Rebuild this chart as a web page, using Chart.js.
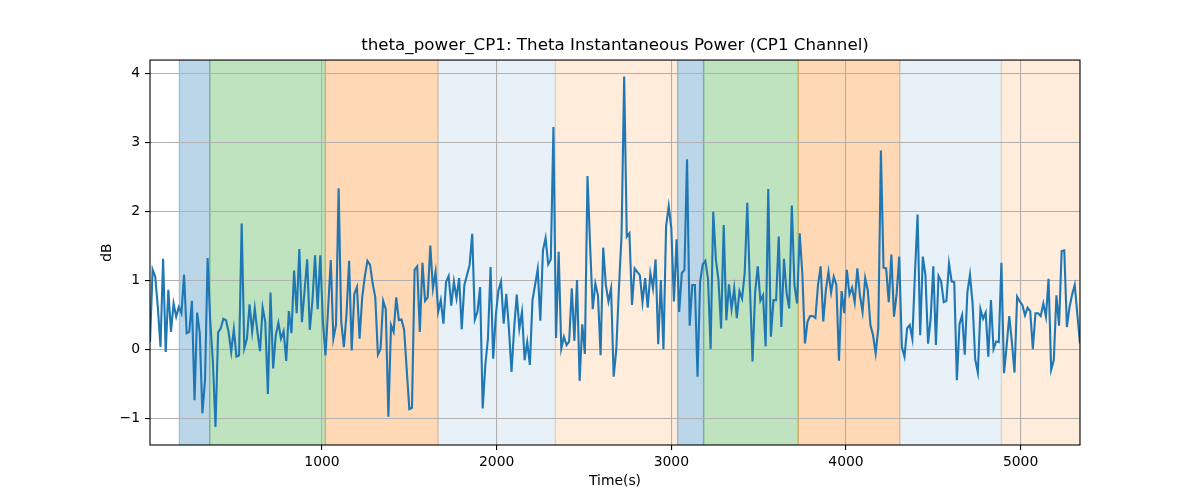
<!DOCTYPE html>
<html>
<head>
<meta charset="utf-8">
<script src="https://cdn.jsdelivr.net/npm/chart.js@4.4.1/dist/chart.umd.min.js"></script>
<style>
  html, body { margin: 0; padding: 0; background: #ffffff; }
  #contenedor { width: 1200px; height: 500px; }
</style>
</head>
<body>
<div id="contenedor"><canvas id="graficoTheta" width="1200" height="500"></canvas></div>
<script>
// muestreo de la serie (s)
const tiempoInicio = 15;
const pasoTiempo = 15;

// potencia theta instantanea CP1 (dB)
const potenciaTheta = [
  0.1, 1.15, 1.05, 0.6, 0.03, 1.31, -0.04, 0.86, 0.25, 0.66,
  0.47, 0.61, 0.52, 1.08, 0.23, 0.25, 0.70, -0.74, 0.53, 0.23,
  -0.93, -0.45, 1.32, 0.4, -0.18, -1.13, 0.24, 0.30, 0.44, 0.42,
  0.25, -0.04, 0.29, -0.11, -0.09, 1.82, 0.01,
  0.15, 0.65, 0.25, 0.59, 0.25, -0.03, 0.60, 0.40, -0.65, 0.82,
  -0.28, 0.2, 0.38, 0.15, 0.26, -0.17, 0.55, 0.23, 1.14, 0.52,
  1.45, 0.39, 0.85, 1.30, 0.28, 0.7, 1.36, 0.58, 1.36, 0.4,
  -0.09, 0.6, 1.29, 0.15, 0.35,
  2.33, 0.4, 0.03, 0.5, 1.28, -0.02, 0.8, 0.9, 0.15, 0.75,
  1.05, 1.28, 1.22, 0.95, 0.75, -0.08, 0.0, 0.7, 0.58, -0.98,
  0.35, 0.25, 0.75, 0.42, 0.43, 0.28, -0.3, -0.87, -0.85, 1.15,
  1.2, 0.25, 1.25, 0.7, 0.75, 1.5,
  0.88, 1.12, 0.54, 0.71, 0.37, 0.97, 1.06, 0.63, 0.98, 0.74,
  1.03, 0.29, 0.93, 1.07, 1.22, 1.67, 0.43, 0.54, 0.9, -0.86,
  -0.23, 0.15, 1.19, -0.14, 0.49, 0.85, 0.98, 0.37, 0.8, 0.3,
  -0.33, 0.3, 0.79, 0.3, 0.54, -0.16,
  0.1, -0.23, 0.71, 0.93, 1.16, 0.41, 1.43, 1.61, 1.23, 1.30,
  3.22, 0.16, 1.41, 0.01, 0.18, 0.06, 0.11, 0.88, 0.12, 1.0,
  -0.46, 0.36, -0.07, 2.51, 1.5, 0.58, 0.95, 0.78, -0.09, 1.47,
  0.93, 0.69, 0.88, -0.4, 0.0,
  0.88, 1.65, 3.95, 1.63, 1.68, 0.64, 1.17, 1.12, 1.07, 0.68,
  1.03, 0.6, 1.1, 0.88, 1.3, 0.07, 1.0, 0.0, 1.78, 2.07,
  1.75, 0.69, 1.59, 0.54, 1.1, 1.15, 2.75, 0.34, 0.93, 0.93,
  -0.4, 0.98, 1.23, 1.28, 1.02, 0.0,
  1.99, 1.3, 1.0, 0.3, 1.8, 0.42, 0.94, 0.58, 0.88, 0.45,
  0.84, 0.73, 1.1, 2.12, 0.9, -0.18, 0.83, 1.2, 0.7, 0.78,
  0.04, 2.32, 0.18, 0.71, 0.71, 1.63, 0.32, 1.31, 0.81, 0.59,
  2.08, 0.93, 0.66, 1.68, 1.1,
  0.08, 0.4, 0.48, 0.48, 0.45, 0.93, 1.2, 0.4, 0.86, 1.12,
  0.82, 1.05, 0.93, -0.17, 0.84, 0.52, 1.15, 0.79, 0.89, 0.68,
  1.17, 0.78, 0.54, 1.03, 0.85, 0.35, 0.2, -0.06, 0.3, 2.88,
  1.18, 1.17, 0.68, 1.37, 0.47, 0.8,
  1.34, 0.03, -0.11, 0.3, 0.35, 0.15, 1.1, 1.95, 0.2, 1.34,
  1.07, 0.08, 0.45, 1.2, 0.06, 1.06, 0.98, 0.68, 0.7, 1.24,
  0.98, 0.97, -0.45, 0.36, 0.49, -0.08, 0.82, 1.08, 0.66, -0.15,
  -0.34, 0.58, 0.44, 0.53, -0.11,
  0.71, 0.0, 0.11, 0.1, 1.25, -0.35, 0.05, 0.48, 0.1, -0.34,
  0.76, 0.69, 0.64, 0.49, 0.6, 0.55, 0.0, 0.52, 0.52, 0.48,
  0.66, 0.47, 1.02, -0.3, -0.16, 0.78, 0.34, 1.42, 1.43, 0.32,
  0.61, 0.79, 0.93, 0.5, 0.08,
];

const ticksTiempo = [1000, 2000, 3000, 4000, 5000];
const ticksDb = [-1, 0, 1, 2, 3, 4];

// fases marcadas en el fondo (s)
const faseInicio = [183, 357, 1019, 1664, 2336, 3036, 3185, 3727, 4308, 4890];
const faseFin = [357, 1019, 1664, 2336, 3036, 3185, 3727, 4308, 4890, 5340];
const faseTipo = ["azul", "verde", "naranja", "azulClaro", "naranjaClaro",
  "azul", "verde", "naranja", "azulClaro", "naranjaClaro"];

const COLORES_FASE = {
  azul: "rgba(31, 119, 180, 0.3)",
  verde: "rgba(44, 160, 44, 0.3)",
  naranja: "rgba(255, 127, 14, 0.3)",
  azulClaro: "rgba(31, 119, 180, 0.1)",
  naranjaClaro: "rgba(255, 127, 14, 0.15)",
};

const FUENTE = "'DejaVu Sans', sans-serif";

const formatearTick = (valor) => (valor < 0 ? "\u2212" + Math.abs(valor) : String(valor));

const pluginFondo = {
  id: "fondoFases",
  beforeDraw: (chart) => {
    const { ctx, chartArea, scales } = chart;
    ctx.save();
    ctx.fillStyle = "#ffffff";
    ctx.fillRect(0, 0, chart.width, chart.height);
    ctx.beginPath();
    ctx.rect(chartArea.left, chartArea.top, chartArea.right - chartArea.left, chartArea.bottom - chartArea.top);
    ctx.clip();
    faseInicio.forEach((inicio, i) => {
      const x0 = scales.x.getPixelForValue(inicio);
      const x1 = scales.x.getPixelForValue(faseFin[i]);
      ctx.fillStyle = COLORES_FASE[faseTipo[i]];
      ctx.strokeStyle = COLORES_FASE[faseTipo[i]];
      ctx.lineWidth = 1.4;
      ctx.fillRect(x0, chartArea.top - 2, x1 - x0, chartArea.bottom - chartArea.top + 4);
      ctx.strokeRect(x0, chartArea.top - 2, x1 - x0, chartArea.bottom - chartArea.top + 4);
    });
    ctx.restore();
  },
  afterDraw: (chart) => {
    const { ctx, chartArea } = chart;
    ctx.save();
    ctx.strokeStyle = "#000000";
    ctx.lineWidth = 1.1;
    ctx.strokeRect(chartArea.left, chartArea.top, chartArea.right - chartArea.left, chartArea.bottom - chartArea.top);
    ctx.restore();
  },
};

const puntos = potenciaTheta.map((valor, i) => ({ x: tiempoInicio + i * pasoTiempo, y: valor }));

new Chart(document.getElementById("graficoTheta"), {
  type: "line",
  data: {
    datasets: [
      {
        data: puntos,
        borderColor: "#1f77b4",
        borderWidth: 2.1,
        pointRadius: 0,
        tension: 0,
        fill: false,
      },
    ],
  },
  options: {
    responsive: false,
    animation: false,
    events: [],
    layout: { padding: { left: 0, right: 120, top: 0, bottom: 0 } },
    plugins: {
      legend: { display: false },
      tooltip: { enabled: false },
      title: {
        display: true,
        fullSize: false,
        text: "theta_power_CP1: Theta Instantaneous Power (CP1 Channel)",
        color: "#000000",
        font: { family: FUENTE, size: 16.7, weight: "normal" },
        padding: { top: 36, bottom: 4 },
      },
    },
    scales: {
      x: {
        type: "linear",
        min: tiempoInicio,
        max: 5340,
        afterBuildTicks: (escala) => {
          escala.ticks = ticksTiempo.map((v) => ({ value: v }));
        },
        afterFit: (escala) => {
          escala.height = 55;
        },
        border: { display: false },
        grid: { color: "#b0b0b0", lineWidth: 1.1, tickColor: "#000000", tickLength: 5, tickWidth: 1.1 },
        ticks: {
          color: "#000000",
          font: { family: FUENTE, size: 13.9 },
          padding: 4,
          maxRotation: 0,
          callback: (v) => formatearTick(v),
        },
        title: {
          display: true,
          text: "Time(s)",
          color: "#000000",
          font: { family: FUENTE, size: 13.9 },
          padding: { top: 10.5, bottom: 10.5 },
        },
      },
      y: {
        min: -1.39,
        max: 4.19,
        afterBuildTicks: (escala) => {
          escala.ticks = ticksDb.map((v) => ({ value: v }));
        },
        afterFit: (escala) => {
          escala.width = 150;
        },
        border: { display: false },
        grid: { color: "#b0b0b0", lineWidth: 1.1, tickColor: "#000000", tickLength: 5, tickWidth: 1.1 },
        ticks: {
          color: "#000000",
          font: { family: FUENTE, size: 13.9 },
          padding: 5,
          callback: (v) => formatearTick(v),
        },
        title: {
          display: true,
          text: "dB",
          color: "#000000",
          font: { family: FUENTE, size: 13.9 },
          padding: { top: 99, bottom: 0 },
        },
      },
    },
  },
  plugins: [pluginFondo],
});
</script>
</body>
</html>
